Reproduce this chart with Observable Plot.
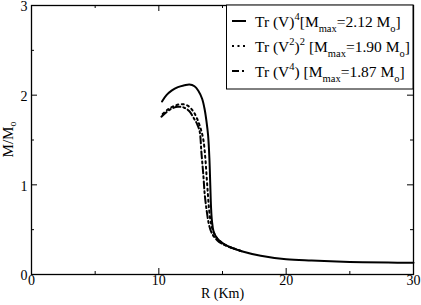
<!DOCTYPE html>
<html><head><meta charset="utf-8">
<script src="https://cdn.jsdelivr.net/npm/d3@7"></script>
<script src="https://cdn.jsdelivr.net/npm/@observablehq/plot@0.6"></script>
<style>body{margin:0;background:#fff} svg{display:block}</style>
</head><body><div id="chart"></div>
<script>
// Tick values
const xMajor = [0, 10, 20, 30];
const xMinor = [5, 15, 25];
const yMajor = [0, 1, 2, 3];
const yMinor = [0.5, 1.5, 2.5];

// Series: Tr (V)^4  (solid)
const solidR = [10.25,10.6,11.0,11.5,12.0,12.4,12.8,13.1,13.4,13.6,13.75,13.87,13.97,14.04,14.1,14.17,14.3,14.6,15.0,15.5,16.5,18,20,22,25,28,30];
const solidM = [1.93,2.00,2.05,2.09,2.11,2.12,2.10,2.05,1.96,1.84,1.70,1.55,1.30,1.00,0.75,0.60,0.48,0.40,0.35,0.31,0.26,0.21,0.17,0.155,0.14,0.133,0.13];
// Series: Tr (V^2)^2 (dotted)
const dotR = [10.3,10.7,11.2,11.8,12.3,12.7,13.0,13.3,13.5,13.65,13.75,13.85,13.95,14.1,14.3,14.6,15.0,15.5,16.5];
const dotM = [1.79,1.84,1.88,1.90,1.88,1.82,1.74,1.62,1.50,1.30,1.10,0.90,0.72,0.57,0.47,0.40,0.35,0.31,0.26];
// Series: Tr (V^4) (dash-dot)
const ddR = [10.2,10.6,11.0,11.5,12.0,12.4,12.8,13.0,13.2,13.35,13.5,13.6,13.75,13.95,14.2,14.6,15.0,15.5,16.5];
const ddM = [1.76,1.81,1.85,1.87,1.86,1.82,1.73,1.68,1.60,1.35,1.10,0.90,0.72,0.55,0.45,0.38,0.34,0.31,0.26];

const legendRows = [
  [["Tr (V)",0],["4",1],["[M",0],["max",-1],["=2.12 M",0],["o",-1],["]",0]],
  [["Tr (V",0],["2",1],[")",0],["2",1],[" [M",0],["max",-1],["=1.90 M",0],["o",-1],["]",0]],
  [["Tr (V",0],["4",1],[") [M",0],["max",-1],["=1.87 M",0],["o",-1],["]",0]]
];
const legendDash = [null, "2,3.5", "7,3,2,3"];

const FONT = "'Liberation Serif', 'Times New Roman', serif";
const toRows = (R, M) => R.map((r, i) => ({R: r, M: M[i]}));
const W = 421, H = 305, mL = 31, mR = 8, mT = 5, mB = 31;
const ph = H - mT - mB, pw = W - mL - mR;

const plot = Plot.plot({
  width: W, height: H,
  marginLeft: mL, marginRight: mR, marginTop: mT, marginBottom: mB,
  x: {domain: [0, 30], axis: null},
  y: {domain: [0, 3], axis: null},
  style: {fontFamily: FONT, fontSize: "14px", background: "white", color: "black", overflow: "visible"},
  marks: [
    Plot.line(toRows(ddR, ddM), {x: "R", y: "M", stroke: "black", strokeWidth: 2, strokeDasharray: legendDash[2], curve: "catmull-rom"}),
    Plot.line(toRows(dotR, dotM), {x: "R", y: "M", stroke: "black", strokeWidth: 2, strokeDasharray: legendDash[1], curve: "catmull-rom"}),
    Plot.line(toRows(solidR, solidM), {x: "R", y: "M", stroke: "black", strokeWidth: 2, curve: "catmull-rom"}),
    Plot.frame({stroke: "black", strokeWidth: 1.3}),
    Plot.tickX(xMajor, {x: d => d, insetTop: ph - 6, stroke: "black"}),
    Plot.tickX(xMajor, {x: d => d, insetBottom: ph - 6, stroke: "black"}),
    Plot.tickX(xMinor, {x: d => d, insetTop: ph - 3, stroke: "black"}),
    Plot.tickX(xMinor, {x: d => d, insetBottom: ph - 3, stroke: "black"}),
    Plot.tickY(yMajor, {y: d => d, insetRight: pw - 6, stroke: "black"}),
    Plot.tickY(yMajor, {y: d => d, insetLeft: pw - 6, stroke: "black"}),
    Plot.tickY(yMinor, {y: d => d, insetRight: pw - 3, stroke: "black"}),
    Plot.tickY(yMinor, {y: d => d, insetLeft: pw - 3, stroke: "black"}),
    Plot.text(xMajor, {x: d => d, frameAnchor: "bottom", dy: 10, text: d => String(d), fill: "black"}),
    Plot.text(yMajor, {y: d => d, frameAnchor: "left", dx: -4, dy: 1.5, textAnchor: "end", text: d => String(d), fill: "black"}),
    Plot.text(["R (Km)"], {frameAnchor: "bottom", dy: 23, text: d => d, fill: "black"})
  ]
});
document.getElementById("chart").appendChild(plot);

const svg = d3.select(plot);
// Y label with subscript
const yl = svg.append("text")
  .attr("transform", `translate(12.5,${mT + ph / 2}) rotate(-90)`)
  .attr("text-anchor", "middle").attr("font-family", FONT)
  .attr("font-size", 15).attr("fill", "black");
yl.append("tspan").text("M/M");
yl.append("tspan").attr("font-size", 10).attr("dy", 3).text("o");

// Legend
const lg = svg.append("g").attr("font-family", FONT).attr("font-size", 15.5)
  .attr("fill", "black").attr("text-anchor", "start");
lg.append("rect").attr("x", 226.5).attr("y", mT).attr("width", W - mR - 226.5).attr("height", 84)
  .attr("fill", "white").attr("stroke", "black").attr("stroke-width", 1);
legendRows.forEach((parts, i) => {
  const ly = 21 + i * 25;
  lg.append("line").attr("x1", 232).attr("x2", 246).attr("y1", ly).attr("y2", ly)
    .attr("stroke", "black").attr("stroke-width", 2)
    .attr("stroke-dasharray", legendDash[i]);
  const t = lg.append("text").attr("x", 255).attr("y", ly + 6).attr("text-anchor", "start");
  let cur = 0;
  parts.forEach(([s, lvl]) => {
    const target = lvl === 1 ? -7 : lvl === -1 ? 5 : 0;
    t.append("tspan").attr("dy", target - cur).attr("font-size", lvl ? 10.5 : 15.5).text(s);
    cur = target;
  });
});
</script>
</body></html>
